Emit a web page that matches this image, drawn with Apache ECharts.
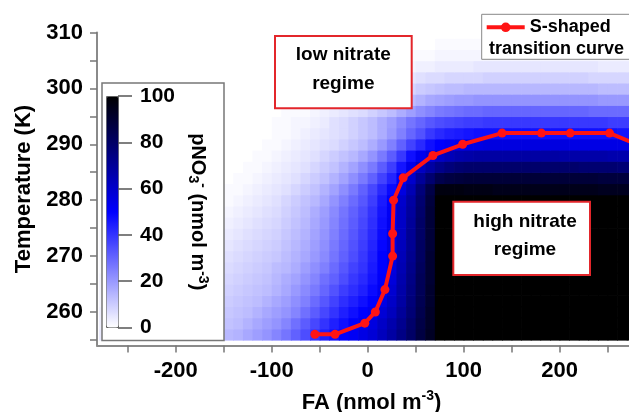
<!DOCTYPE html>
<html>
<head>
<meta charset="utf-8">
<script src="https://cdn.jsdelivr.net/npm/echarts@6/dist/echarts.min.js"></script>
<style>
  html, body { margin: 0; padding: 0; background: #fff; }
  #chart { width: 629px; height: 412px; }
</style>
</head>
<body>
<div id="chart"></div>
<script>
const FONT = 'Liberation Sans, Arial, sans-serif';

// heatmap column centres, FA (nmol m-3)
const faCols = [-275,-265,-255,-245,-235,-225,-215,-205,-195,-185,-175,-165,-155,-145,-135,-125,-115,-105,-95,-85,-75,-65,-55,-45,-35,-25,-15,-5,
  5,15,25,35,45,55,65,75,85,95,105,115,125,135,145,155,165,175,185,195,205,215,225,235,245,255,265,275,285];
// heatmap row centres, temperature (K), bottom to top
const tempRows = [256,258,260,262,264,266,268,270,272,274,276,278,280,282,284,286,288,290,292,294,296,298,300,302,304,306,308,310];

// pNO3- (nmol m-3), one line per tempRows entry
const pno3 = [
  [4,5,5,6,6,7,7,8,8,9,10,11,12, 14,15,17,19,21,24,27,31,35,40,44,47,50,52,55, 58,63,68,74,80,87,93, 100,100,100,100,100,100,100,100,100,100,100, 100,100,100,100,100,100,100,100,100,100,100],
  [3,4,4,5,5,6,6,7,7,8,9,10,11, 12,13,15,17,19,21,24,28,32,36,40,44,47,50,53, 56,61,66,72,79,86,92, 100,100,100,100,100,100,100,100,100,100,100, 100,100,100,100,100,100,100,100,100,100,100],
  [3,3,4,4,5,5,6,6,7,7,8,9,10, 11,12,13,15,17,19,21,24,28,32,36,40,44,47,50, 53,58,63,70,77,85,92, 100,100,100,100,100,100,100,100,100,100,100, 100,100,100,100,100,100,100,100,100,100,100],
  [2,3,3,4,4,5,5,6,6,7,7,8,9, 10,11,12,13,15,17,19,22,25,29,33,37,41,44,47, 50,55,61,68,76,84,91, 100,100,100,100,100,100,100,100,100,100,100, 100,100,100,100,100,100,100,100,100,100,100],
  [2,2,3,3,4,4,5,5,5,6,6,7,8, 9,10,11,12,13,15,17,20,23,26,30,34,38,41,44, 48,53,59,67,75,83,91, 100,100,100,100,100,100,100,100,100,100,100, 100,100,100,100,100,100,100,100,100,100,100],
  [2,2,2,3,3,3,4,4,5,5,5,6,7, 8,9,10,11,12,14,16,18,21,24,28,31,35,39,42, 46,51,57,66,74,83,90, 100,100,100,100,100,100,100,100,100,100,100, 100,100,100,100,100,100,100,100,100,100,100],
  [1,2,2,2,3,3,3,4,4,4,5,5,6, 7,8,9,10,11,13,14,16,19,22,25,29,33,37,40, 45,50,56,65,73,82,90, 100,100,100,100,100,100,100,100,100,100,100, 100,100,100,100,100,100,100,100,100,100,100],
  [1,1,2,2,2,3,3,3,3,4,4,5,5, 6,7,8,9,10,11,13,15,17,20,23,27,31,35,39, 44,50,55,64,72,81,90, 100,100,100,100,100,100,100,100,100,100,100, 100,100,100,100,100,100,100,100,100,100,100],
  [1,1,1,2,2,2,2,3,3,3,3,4,4, 5,6,7,8,9,10,12,14,16,19,22,26,30,34,38, 43,49,55,63,71,81,89, 100,100,100,100,100,100,100,100,100,100,100, 100,100,100,100,100,100,100,100,100,100,100],
  [1,1,1,1,1,2,2,2,2,3,3,3,4, 4,5,6,7,8,9,11,13,15,18,21,25,29,33,37, 42,48,54,62,71,80,89, 100,100,100,100,100,100,100,100,100,100,100, 100,100,100,100,100,100,100,100,100,100,100],
  [0,1,1,1,1,1,1,2,2,2,2,3,3, 3,4,5,6,7,8,10,12,14,17,20,24,28,32,36, 41,47,53,61,70,80,89, 100,100,100,100,100,100,100,100,100,100,100, 100,100,100,100,100,100,100,100,100,100,100],
  [0,0,0,1,1,1,1,1,1,1,2,2,2, 2,3,4,5,6,7,9,11,13,16,19,23,27,31,35, 40,46,52,61,69,79,89, 100,100,100,100,100,100,100,100,100,100,100, 100,100,100,100,100,100,100,100,100,100,100],
  [0,0,0,0,0,0,0,0,1,1,1,1,1, 1,2,3,4,5,6,8,10,12,14,17,21,25,29,33, 38,45,51,60,68,78,88, 100,100,100,100,100,100,100,100,100,100,100, 100,100,100,100,100,100,100,100,100,100,100],
  [0,0,0,0,0,0,0,0,0,0,0,1,1, 1,1,2,3,4,5,6,8,10,12,15,18,22,26,31, 36,42,48,56,65,76,86, 97,97,97,96,96,96,95,95,95,95,95, 95,95,95,95,95,95,94,94,94,94,94],
  [0,0,0,0,0,0,0,0,0,0,0,0,0, 0,1,1,2,3,4,5,6,8,10,12,15,18,22,26, 31,37,43,51,60,70,78, 85,87,88,89,89,89,89,89,89,89,89, 89,89,89,89,89,89,88,88,88,88,88],
  [0,0,0,0,0,0,0,0,0,0,0,0,0, 0,0,1,1,2,3,4,5,6,8,10,12,15,18,22, 26,32,38,46,54,62,68, 73,76,78,79,79,79,79,79,79,79,79, 79,79,79,79,78,78,78,78,77,77,77],
  [0,0,0,0,0,0,0,0,0,0,0,0,0, 0,0,0,1,1,2,3,4,5,6,8,10,12,14,17, 21,26,32,39,47,53,57, 61,64,66,67,68,68,68,68,68,68,68, 68,68,67,67,67,67,67,66,66,66,66],
  [0,0,0,0,0,0,0,0,0,0,0,0,0, 0,0,0,0,1,1,2,3,4,5,6,7,9,11,13, 16,20,25,31,37,42,47, 50,52,54,55,55,56,56,56,56,56,56, 56,56,56,55,55,55,55,55,55,55,55],
  [0,0,0,0,0,0,0,0,0,0,0,0,0, 0,0,0,0,0,1,1,2,3,4,5,6,7,9,11, 13,16,20,25,30,34,39, 42,44,45,46,47,47,47,47,47,47,47, 47,47,47,47,47,47,47,47,46,46,46],
  [0,0,0,0,0,0,0,0,0,0,0,0,0, 0,0,0,0,0,1,1,2,2,3,4,6,7,9,11, 13,16,19,23,27,30,33, 35,36,37,38,38,39,39,39,39,39,39, 39,39,39,39,39,39,39,38,38,38,38],
  [0,0,0,0,0,0,0,0,0,0,0,0,0, 0,0,0,0,0,0,1,1,1,2,3,4,5,6,7, 9,11,13,16,19,22,24, 26,27,28,29,29,30,30,30,30,30,30, 30,30,30,30,30,29,29,29,29,29,29],
  [0,0,0,0,0,0,0,0,0,0,0,0,0, 0,0,0,0,0,0,0,0,1,1,2,2,3,4,5, 6,7,9,11,13,15,17, 18,19,20,20,21,21,21,21,21,21,21, 21,21,21,21,21,21,20,20,20,20,20],
  [0,0,0,0,0,0,0,0,0,0,0,0,0, 0,0,0,0,0,0,0,0,0,0,1,1,2,2,3, 4,5,6,7,8,10,11, 12,13,13,14,14,14,14,14,14,14,14, 14,14,14,14,14,14,13,13,13,13,13],
  [0,0,0,0,0,0,0,0,0,0,0,0,0, 0,0,0,0,0,0,0,0,0,0,0,0,1,1,2, 2,3,3,4,5,6,7, 7,8,8,8,8,9,9,9,9,9,9, 9,9,9,9,9,8,8,8,8,8,8],
  [0,0,0,0,0,0,0,0,0,0,0,0,0, 0,0,0,0,0,0,0,0,0,0,0,0,0,0,1, 1,1,2,2,2,3,3, 4,4,4,4,5,5,5,5,5,5,5, 5,5,5,5,5,5,4,4,4,4,4],
  [0,0,0,0,0,0,0,0,0,0,0,0,0, 0,0,0,0,0,0,0,0,0,0,0,0,0,0,0, 0,0,1,1,1,1,1, 2,2,2,2,2,2,2,2,2,2,2, 2,2,2,2,2,2,2,2,2,2,2],
  [0,0,0,0,0,0,0,0,0,0,0,0,0, 0,0,0,0,0,0,0,0,0,0,0,0,0,0,0, 0,0,0,0,0,0,0, 1,1,1,1,1,1,1,1,1,1,1, 1,1,1,1,1,1,1,1,1,1,1],
  [0,0,0,0,0,0,0,0,0,0,0,0,0, 0,0,0,0,0,0,0,0,0,0,0,0,0,0,0, 0,0,0,0,0,0,0, 0,0,0,0,0,0,0,0,0,0,0, 0,0,0,0,0,0,0,0,0,0,0]
];

// S-shaped transition curve
const curveFA = [-55,-34,-3,8,18,26,26,27,37,68,99,140,181,211,252,280];
const curveT = [256,256,258,260,264,270,274,280,284,288,290,292,292,292,292,290];

const xTicks = [-250,-200,-150,-100,-50,0,50,100,150,200,250];
const xLabels = [-200,-100,0,100,200];
const yTicks = [255,260,265,270,275,280,285,290,295,300,305,310];
const yLabels = [260,270,280,290,300,310];

const cells = [];
tempRows.forEach((t, r) => {
  faCols.forEach((fa, c) => {
    const v = pno3[r][c];
    if (v != null) cells.push([fa, t, v]);
  });
});
const curve = curveFA.map((fa, i) => [fa, curveT[i]]);

function renderCell(params, api) {
  const fa = api.value(0);
  const t = api.value(1);
  const a = api.coord([fa - 5, t + 1]);
  const b = api.coord([fa + 5, t - 1]);
  const cs = params.coordSys;
  const shape = echarts.graphic.clipRectByRect(
    { x: a[0], y: a[1], width: b[0] - a[0] + 0.7, height: b[1] - a[1] + 0.7 },
    { x: cs.x, y: cs.y, width: cs.width, height: cs.height }
  );
  if (!shape) return null;
  return { type: 'rect', shape: shape, style: { fill: api.visual('color') } };
}

const bold = (size) => ({ fontSize: size, fontWeight: 'bold', color: '#000', fontFamily: FONT });

const chart = echarts.init(document.getElementById('chart'));
chart.setOption({
  animation: false,
  backgroundColor: '#fff',
  grid: [
    { left: 97, top: 32.5, width: 549, height: 313, outerBoundsMode: 'none', containLabel: false },
    { left: 106, top: 96, width: 12, height: 231.5, outerBoundsMode: 'none', containLabel: false }
  ],
  xAxis: [
    {
      type: 'value', gridIndex: 0, min: -282, max: 290,
      axisLine: { show: true, onZero: false, lineStyle: { color: '#8a8a8a', width: 2 } },
      axisTick: { show: true, customValues: xTicks, length: 7, lineStyle: { color: '#777', width: 1.5 } },
      axisLabel: Object.assign({ customValues: xLabels, margin: 14 }, bold(22)),
      splitLine: { show: false },
      name: 'FA (nmol m{sup|-3})', nameLocation: 'middle', nameGap: 44,
      nameTextStyle: Object.assign({ lineHeight: 26, rich: { sup: Object.assign({ verticalAlign: 'top', lineHeight: 14 }, bold(14)) } }, bold(22))
    },
    { type: 'value', gridIndex: 1, show: false, min: 0, max: 1, axisLine: { onZero: false } }
  ],
  yAxis: [
    {
      type: 'value', gridIndex: 0, min: 254, max: 310,
      axisLine: { show: true, onZero: false, lineStyle: { color: '#8a8a8a', width: 2 } },
      axisTick: { show: true, customValues: yTicks, length: 7, lineStyle: { color: '#777', width: 1.5 } },
      axisLabel: Object.assign({ customValues: yLabels, margin: 14 }, bold(22)),
      splitLine: { show: false },
      name: 'Temperature (K)', nameLocation: 'middle', nameGap: 60, nameRotate: 90,
      nameTextStyle: bold(22)
    },
    {
      type: 'value', gridIndex: 1, position: 'right', min: 0, max: 100, interval: 20, z: 20,
      axisLine: { show: false, onZero: false },
      axisTick: { show: true, length: 14, lineStyle: { color: '#555', width: 1.5 } },
      axisLabel: Object.assign({ margin: 22 }, bold(21)),
      splitLine: { show: false },
      name: 'pNO{sub|3}{sup|-} (nmol m{sup|-3})', nameLocation: 'middle', nameGap: 68, nameRotate: -90,
      nameTextStyle: Object.assign({
        lineHeight: 24,
        rich: {
          sub: Object.assign({ verticalAlign: 'bottom', lineHeight: 14 }, bold(14)),
          sup: Object.assign({ verticalAlign: 'top', lineHeight: 14 }, bold(14))
        }
      }, bold(20))
    }
  ],
  visualMap: {
    type: 'continuous', seriesIndex: 0, dimension: 2, min: 0, max: 100,
    calculable: false, show: true, left: 106, top: 96, itemWidth: 12, itemHeight: 231,
    padding: 0, text: null, showLabel: false, z: 20,
    borderColor: '#666', borderWidth: 1,
    inRange: { color: ['#ffffff', '#0000ff', '#000000'] }
  },
  legend: {
    data: ['S-shaped'],
    left: 481.7, top: 14.3, itemWidth: 38, itemHeight: 12, padding: [4, 30, 23, 3],
    backgroundColor: '#fff', borderColor: '#888', borderWidth: 1, borderRadius: 0,
    selectedMode: false, lineStyle: { width: 4 },
    textStyle: bold(18)
  },
  graphic: [
    { type: 'rect', z: 10, shape: { x: 102, y: 83, width: 122, height: 257.5 },
      style: { fill: '#fff', stroke: '#777', lineWidth: 1.5 } },
    { type: 'rect', z: 10, shape: { x: 275, y: 36, width: 136.7, height: 72.3 },
      style: { fill: '#fff', stroke: '#e3262b', lineWidth: 2 } },
    { type: 'text', z: 11, x: 343.3, y: 69.7,
      style: { text: 'low nitrate\nregime', align: 'center', verticalAlign: 'middle', lineHeight: 29,
        fontSize: 19, fontWeight: 'bold', fontFamily: FONT, fill: '#000' } },
    { type: 'rect', z: 10, shape: { x: 453.3, y: 201.7, width: 136.7, height: 73.3 },
      style: { fill: '#fff', stroke: '#e3262b', lineWidth: 2 } },
    { type: 'text', z: 11, x: 525, y: 235.8,
      style: { text: 'high nitrate\nregime', align: 'center', verticalAlign: 'middle', lineHeight: 28.5,
        fontSize: 19, fontWeight: 'bold', fontFamily: FONT, fill: '#000' } },
    { type: 'text', z: 20, x: 489, y: 49.3,
      style: { text: 'transition curve', align: 'left', verticalAlign: 'middle',
        fontSize: 18, fontWeight: 'bold', fontFamily: FONT, fill: '#000' } }
  ],
  series: [
    {
      type: 'custom', name: 'pNO3', xAxisIndex: 0, yAxisIndex: 0, z: 1,
      renderItem: renderCell, data: cells, encode: { x: 0, y: 1 }, silent: true
    },
    {
      type: 'line', name: 'S-shaped', xAxisIndex: 0, yAxisIndex: 0, z: 5,
      data: curve, symbol: 'circle', symbolSize: 9, showSymbol: true,
      lineStyle: { color: '#ff1414', width: 4 },
      itemStyle: { color: '#ff1414' }
    }
  ]
});
</script>
</body>
</html>
